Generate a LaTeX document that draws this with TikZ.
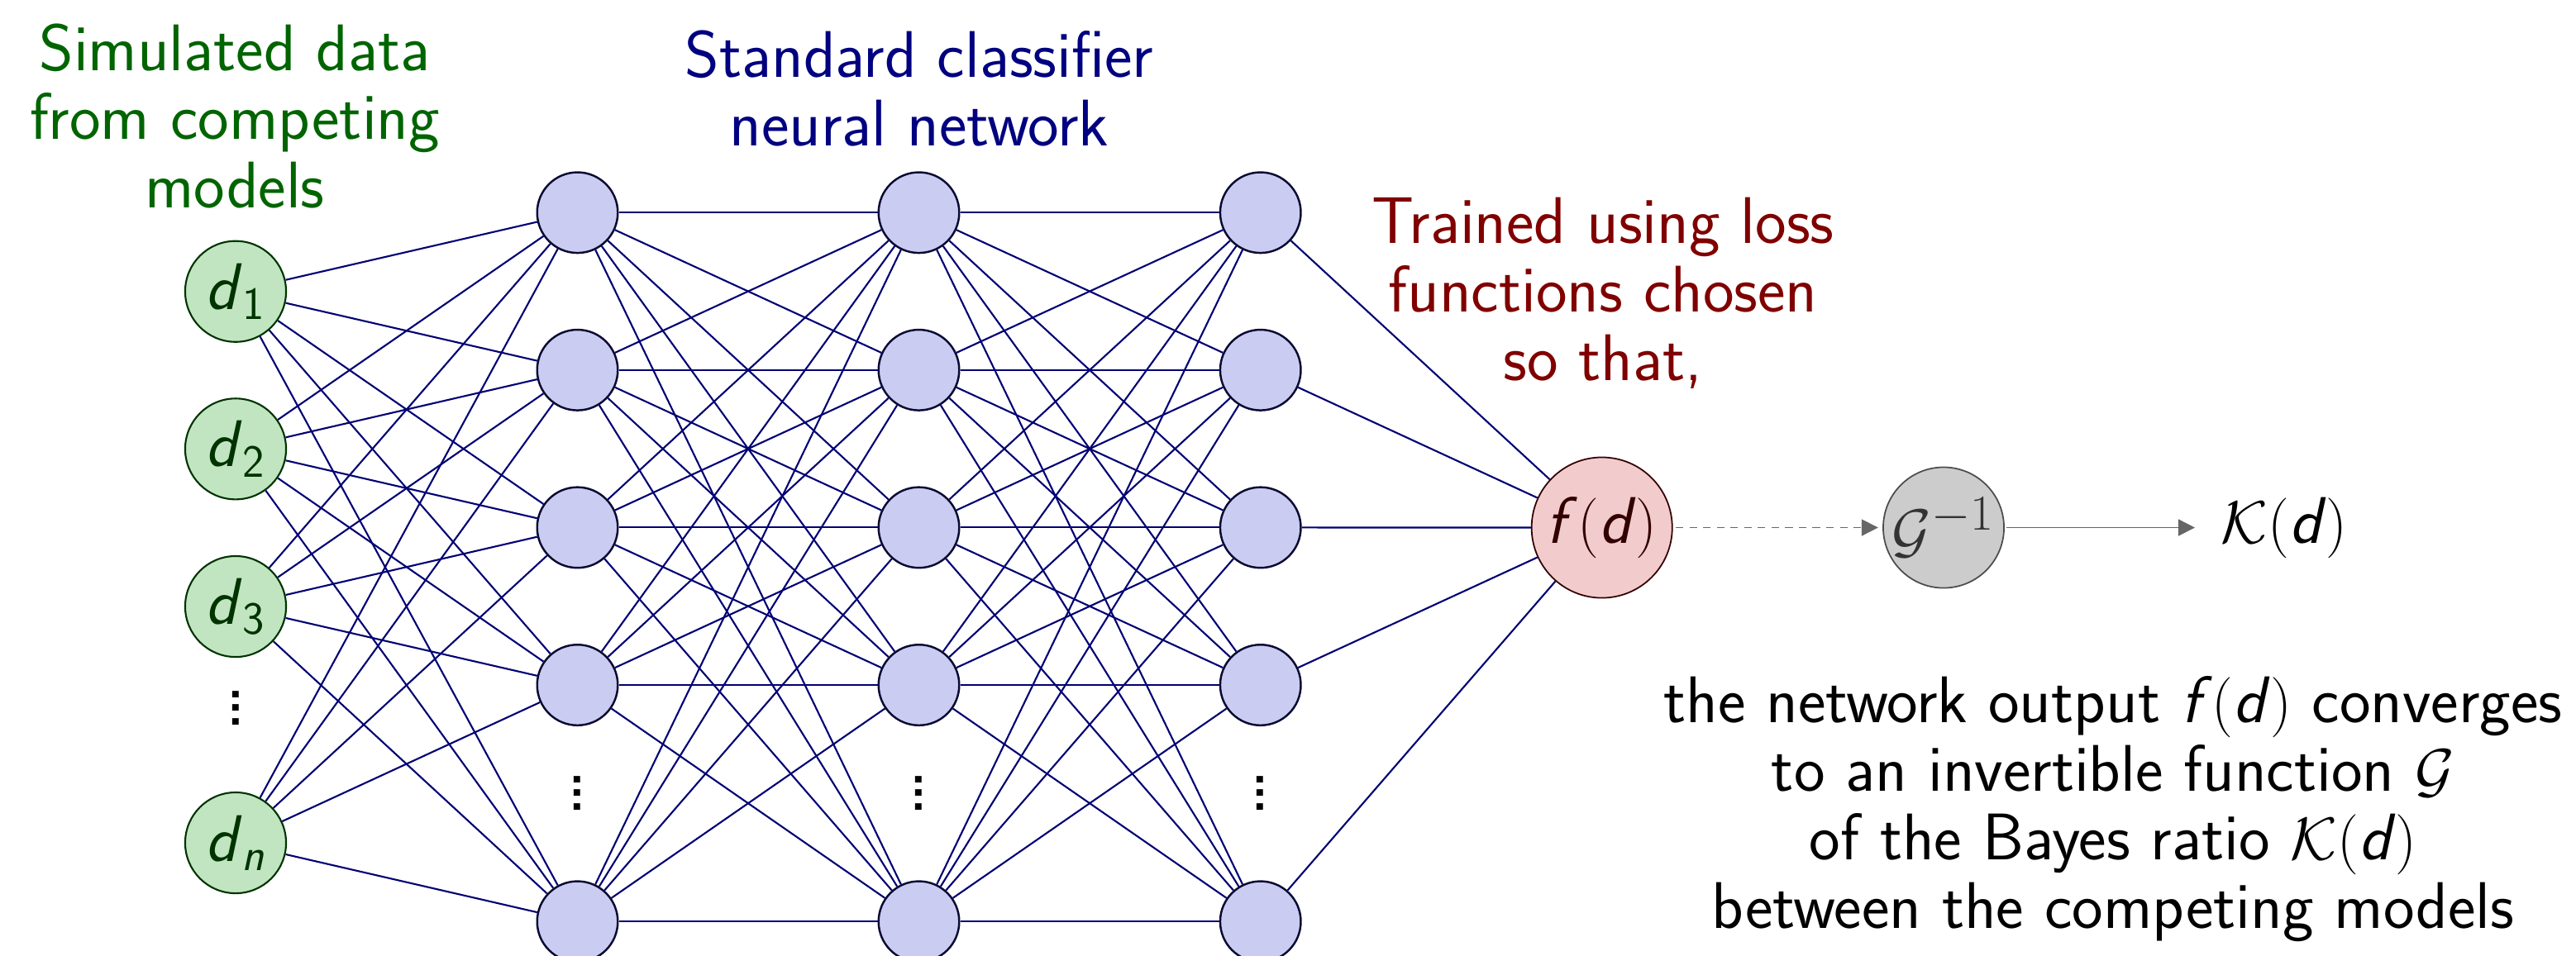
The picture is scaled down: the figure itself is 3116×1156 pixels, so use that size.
\documentclass[tikz,border=0pt]{standalone}
\usepackage{amsmath}
\usetikzlibrary{arrows.meta,backgrounds}
\definecolor{tgreen}{RGB}{0,100,0}
\definecolor{tnavy}{RGB}{0,0,128}
\definecolor{tmaroon}{RGB}{128,0,0}
\definecolor{infill}{RGB}{193,229,193}
\definecolor{indraw}{RGB}{0,51,0}
\definecolor{hidfill}{RGB}{203,204,242}
\definecolor{hiddraw}{RGB}{10,10,50}
\definecolor{edgecol}{RGB}{0,0,115}
\definecolor{outfill}{RGB}{242,204,204}
\definecolor{outdraw}{RGB}{51,0,0}
\definecolor{gfill}{RGB}{204,204,204}
\definecolor{gdraw}{RGB}{77,77,77}
\definecolor{gtext}{RGB}{51,51,51}
\definecolor{arrowcol}{RGB}{102,102,102}
\newcommand\myd{\text{\textsl{d}}}
\newcommand\myf{\text{\textsl{f}}}
\newcommand\mydots{\vbox{\baselineskip=4.6pt\lineskiplimit=-20pt\hbox{.}\hbox{.}\hbox{.}}}
\tikzset{
  inp/.style={circle, draw=indraw, fill=infill, line width=0.6pt, minimum size=1.22cm, inner sep=0pt, text=indraw},
  hid/.style={circle, draw=hiddraw, fill=hidfill, line width=0.7pt, minimum size=0.975cm, inner sep=0pt},
  outn/.style={circle, draw=outdraw, fill=outfill, line width=0.5pt, minimum size=1.70cm, inner sep=0pt, text=outdraw},
  ginv/.style={circle, draw=gdraw, fill=gfill, line width=0.5pt, minimum size=1.46cm, inner sep=0pt, text=gtext},
  conn/.style={draw=edgecol, line width=0.6pt},
  arr/.style={draw=arrowcol, line width=0.5pt, -{Triangle[length=5.7pt,width=5.7pt]}},
  lbl/.style={align=center, anchor=base, inner sep=0pt},
  dotsn/.style={font=\sffamily\fontsize{28}{30}\selectfont, inner sep=0pt},
}
\begin{document}
\begin{tikzpicture}[x=0.01cm, y=-0.01cm, font=\sffamily\fontsize{22.7}{23.6}\selectfont]
\useasboundingbox (0,0) rectangle (3116,1156);

% labels (anchored at the baseline of their last line)
\node[lbl, text=tgreen] (tin) at (284,251) {Simulated data\\from competing\\models};
\node[lbl, text=tnavy] (tnet) at (1112,176) {Standard classifier\\neural network};
\node[lbl, text=tmaroon] (ttrain) at (1939,460) {Trained using loss\\functions chosen\\so that,};
\node[lbl] (tconv) at (2556,1123) {the network output $\myf(\myd)$ converges\\to an invertible function $\mathcal{G}$\\of the Bayes ratio $\mathcal{K}(\myd)$\\between the competing models};

% input layer
\node[inp] (in1) at (285,352.7) {$\myd_{\text{1}}$};
\node[inp] (in2) at (285,543.3) {$\myd_{\text{2}}$};
\node[inp] (in3) at (285,734) {$\myd_{\text{3}}$};
\node[inp] (inn) at (285,1020) {$\myd_{\text{\textsl{n}}}$};
\node[dotsn] (dotsIn) at (285,857) {\mydots};

% hidden layers
\foreach \c/\x in {A/698.5,B/1111.5,C/1524.7}{
  \foreach \r/\y in {1/257.3,2/447.8,3/638.4,4/829,5/1115.3}{
    \node[hid] (h\c\r) at (\x,\y) {};
  }
  \node[dotsn] (dots\c) at (\x,960) {\mydots};
}

% output chain
\node[outn] (fd) at (1937.7,638.5) {$\myf(\myd)$};
\node[ginv] (Ginv) at (2351,638.5) {$\mathcal{G}^{-1}$};
\node[inner xsep=0.31cm, inner ysep=0pt] (Kd) at (2763,638.5) {$\mathcal{K}(\myd)$};

\begin{scope}[on background layer]
  \foreach \i in {in1,in2,in3,inn}{
    \foreach \j in {1,...,5}{ \draw[conn] (\i) -- (hA\j); }
  }
  \foreach \i in {1,...,5}{
    \foreach \j in {1,...,5}{
      \draw[conn] (hA\i) -- (hB\j);
      \draw[conn] (hB\i) -- (hC\j);
    }
    \draw[conn] (hC\i) -- (fd);
  }
\end{scope}

\draw[arr, dash pattern=on 2.6pt off 2.1pt, shorten <=1pt, shorten >=1.5pt] (fd) -- (Ginv);
\draw[arr, shorten <=0.5pt] (Ginv) -- (Kd);
\end{tikzpicture}
\end{document}
